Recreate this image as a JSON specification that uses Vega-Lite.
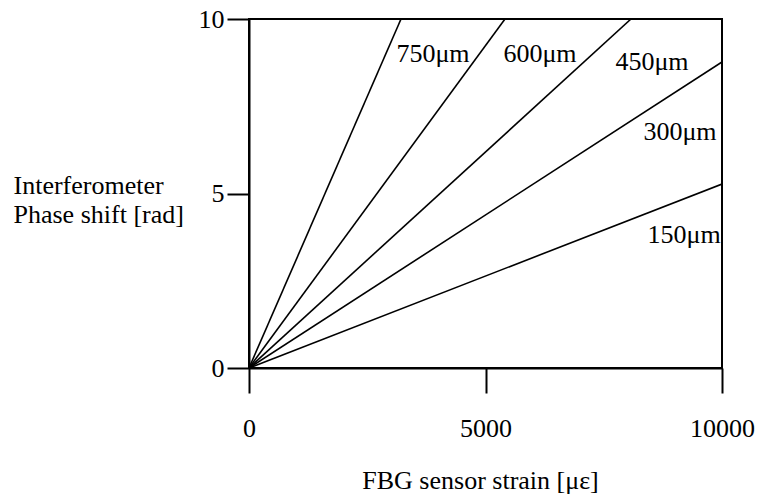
{
  "$schema": "https://vega.github.io/schema/vega-lite/v6.json",
  "autosize": "none",
  "width": 473,
  "height": 349,
  "padding": {"left": 249, "top": 19, "right": 37, "bottom": 129},
  "background": "white",
  "config": {
    "font": "Liberation Serif",
    "view": {"stroke": "black", "strokeWidth": 2},
    "axis": {"grid": false}
  },
  "datasets": {
    "lines": [
      {"series": "150", "strain": 0, "phase": 0},
      {"series": "150", "strain": 10000, "phase": 5.27},
      {"series": "300", "strain": 0, "phase": 0},
      {"series": "300", "strain": 10000, "phase": 8.77},
      {"series": "450", "strain": 0, "phase": 0},
      {"series": "450", "strain": 8076, "phase": 10},
      {"series": "600", "strain": 0, "phase": 0},
      {"series": "600", "strain": 5412, "phase": 10},
      {"series": "750", "strain": 0, "phase": 0},
      {"series": "750", "strain": 3214, "phase": 10}
    ],
    "labels": [
      {"label": "750μm", "strain": 3890, "phase": 8.77},
      {"label": "600μm", "strain": 6152, "phase": 8.77},
      {"label": "450μm", "strain": 8520, "phase": 8.54},
      {"label": "300μm", "strain": 9112, "phase": 6.53},
      {"label": "150μm", "strain": 9197, "phase": 3.58}
    ]
  },
  "layer": [
    {
      "data": {"name": "lines"},
      "mark": {"type": "line", "color": "black", "strokeWidth": 1.6, "clip": true},
      "encoding": {
        "x": {
          "field": "strain", "type": "quantitative",
          "scale": {"domain": [0, 10000], "nice": false, "zero": false},
          "axis": {
            "values": [0, 5000, 10000],
            "format": "d",
            "domainColor": "black", "domainWidth": 2,
            "tickColor": "black", "tickWidth": 2, "tickSize": 25,
            "labelFont": "Liberation Serif", "labelFontSize": 26, "labelColor": "black",
            "labelPadding": 22, "labelFlush": false,
            "title": "FBG sensor strain [με]",
            "titleFont": "Liberation Serif", "titleFontSize": 26, "titleFontWeight": "normal",
            "titleColor": "black", "titleBaseline": "alphabetic",
            "titleX": 231, "titleY": 120
          }
        },
        "y": {
          "field": "phase", "type": "quantitative",
          "scale": {"domain": [0, 10], "nice": false, "zero": false},
          "axis": {
            "values": [0, 5, 10],
            "domainColor": "black", "domainWidth": 2,
            "tickColor": "black", "tickWidth": 2, "tickSize": 22,
            "labelFont": "Liberation Serif", "labelFontSize": 26, "labelColor": "black",
            "labelPadding": 3, "labelFlush": false,
            "title": ["Interferometer", "Phase shift [rad]"],
            "titleFont": "Liberation Serif", "titleFontSize": 26, "titleFontWeight": "normal",
            "titleColor": "black", "titleAngle": 0, "titleAlign": "left",
            "titleBaseline": "alphabetic", "titleLineHeight": 29,
            "titleX": -236, "titleY": 174
          }
        },
        "detail": {"field": "series"}
      }
    },
    {
      "data": {"name": "labels"},
      "mark": {"type": "text", "font": "Liberation Serif", "fontSize": 26, "color": "black", "align": "center", "baseline": "alphabetic"},
      "encoding": {
        "x": {"field": "strain", "type": "quantitative"},
        "y": {"field": "phase", "type": "quantitative"},
        "text": {"field": "label"}
      }
    }
  ]
}
